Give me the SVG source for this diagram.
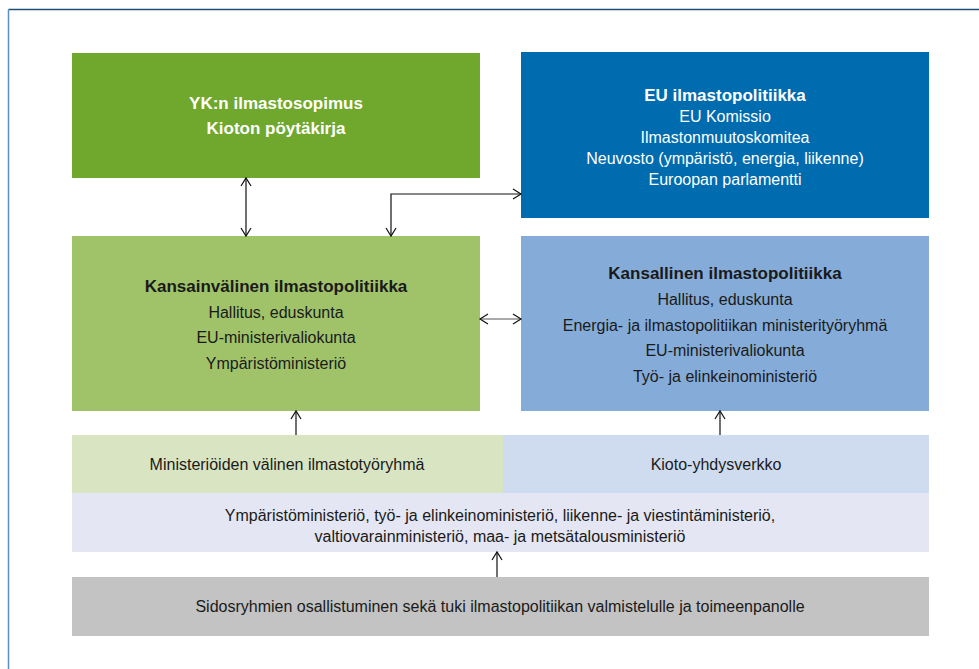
<svg xmlns="http://www.w3.org/2000/svg" width="979" height="669" viewBox="0 0 979 669">
<style>
text{font-family:"Liberation Sans",Arial,sans-serif;text-anchor:middle;}
.b{font-weight:bold;}
.w{fill:#ffffff;}
.k{fill:#1a1a1a;}
.t15{font-size:17px;}
.t14{font-size:16px;}
.t13{font-size:16px;}
.con{fill:none;stroke:#111;stroke-width:1.2;}
</style>
<defs>
<marker id="ah" markerUnits="userSpaceOnUse" markerWidth="12" markerHeight="12" refX="9" refY="5" orient="auto-start-reverse" viewBox="0 0 12 10">
<path d="M1,0 L9,5 L1,10" fill="none" stroke="#111" stroke-width="1.2"/>
</marker>
</defs>
<rect x="0" y="0" width="979" height="669" fill="#ffffff"/>
<path d="M979,9.5 H8.5" fill="none" stroke="#1d4e74" stroke-width="1.5"/>
<path d="M8.5,9.5 V669" fill="none" stroke="#5a8fc6" stroke-width="1.5"/>

<g id="yk">
<rect x="72" y="53" width="408" height="125" fill="#6fa82c"/>
<text class="b w t15" x="276" y="109">YK:n ilmastosopimus</text>
<text class="b w t15" x="276" y="134">Kioton pöytäkirja</text>
</g>

<g id="eu">
<rect x="521" y="52" width="408" height="166" fill="#006cb0"/>
<text class="b w t15" x="725" y="101">EU ilmastopolitiikka</text>
<text class="w t14" x="725" y="122">EU Komissio</text>
<text class="w t14" x="725" y="143">Ilmastonmuutoskomitea</text>
<text class="w t14" x="725" y="164">Neuvosto (ympäristö, energia, liikenne)</text>
<text class="w t14" x="725" y="185">Euroopan parlamentti</text>
</g>

<g id="kansainvalinen">
<rect x="72" y="236" width="408" height="175" fill="#a0c36a"/>
<text class="b k t15" x="276" y="292">Kansainvälinen ilmastopolitiikka</text>
<text class="k t14" x="276" y="318">Hallitus, eduskunta</text>
<text class="k t14" x="276" y="343">EU-ministerivaliokunta</text>
<text class="k t14" x="276" y="369">Ympäristöministeriö</text>
</g>

<g id="kansallinen">
<rect x="521" y="236" width="408" height="175" fill="#85acd8"/>
<text class="b k t15" x="725" y="279">Kansallinen ilmastopolitiikka</text>
<text class="k t14" x="725" y="305">Hallitus, eduskunta</text>
<text class="k t14" x="725" y="331">Energia- ja ilmastopolitiikan ministerityöryhmä</text>
<text class="k t14" x="725" y="356">EU-ministerivaliokunta</text>
<text class="k t14" x="725" y="382">Työ- ja elinkeinoministeriö</text>
</g>

<g id="ilmastotyoryhma">
<rect x="72" y="435" width="431" height="58" fill="#d8e4c2"/>
<text class="k t14" x="287" y="470">Ministeriöiden välinen ilmastotyöryhmä</text>
</g>

<g id="kioto">
<rect x="503" y="435" width="426" height="58" fill="#cfdcef"/>
<text class="k t14" x="716" y="470">Kioto-yhdysverkko</text>
</g>

<g id="ministeriot">
<rect x="72" y="493" width="857" height="59" fill="#e4e6f3"/>
<text class="k t13" x="500" y="521">Ympäristöministeriö, työ- ja elinkeinoministeriö, liikenne- ja viestintäministeriö,</text>
<text class="k t13" x="500" y="542">valtiovarainministeriö, maa- ja metsätalousministeriö</text>
</g>

<g id="sidosryhmat">
<rect x="72" y="577" width="857" height="59" fill="#c3c3c3"/>
<text class="k t14" x="500" y="612">Sidosryhmien osallistuminen sekä tuki ilmastopolitiikan valmistelulle ja toimeenpanolle</text>
</g>

<g id="connectors">
<path class="con" d="M246,178 V236" marker-start="url(#ah)" marker-end="url(#ah)"/>
<path class="con" d="M391,236 V194 H521" marker-start="url(#ah)" marker-end="url(#ah)"/>
<path class="con" d="M480,319 H521" marker-start="url(#ah)" marker-end="url(#ah)" style="stroke:#555"/>
<path class="con" d="M296,435 V411" marker-end="url(#ah)"/>
<path class="con" d="M720,435 V411" marker-end="url(#ah)"/>
<path class="con" d="M497,577 V552" marker-end="url(#ah)"/>
</g>
</svg>
